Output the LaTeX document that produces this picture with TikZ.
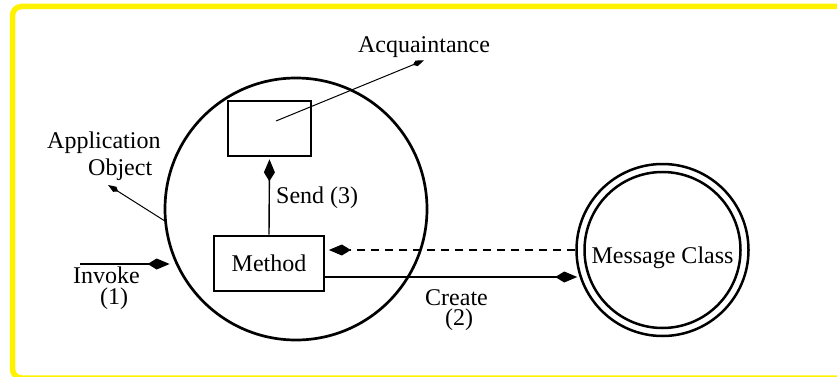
\documentclass[tikz,border=0pt]{standalone}
\usepackage{fontspec}
\setmainfont{Liberation Serif}
\usetikzlibrary{arrows.meta}
\begin{document}
\begin{tikzpicture}[x=1pt,y=-1pt,
  frame/.style={draw=yellow, line width=5.5pt, rounded corners=9pt},
  bigcirc/.style={circle, draw, line width=2.7pt, inner sep=0pt},
  boxnode/.style={rectangle, draw, line width=2.7pt, inner sep=0pt, font=\fontsize{24}{27}\selectfont},
  txt/.style={font=\fontsize{24}{27}\selectfont, inner sep=0pt},
  conn/.style={line width=1.4pt},
  thinconn/.style={line width=1pt},
  bighead/.style={-{Kite[length=22pt,width=11pt,inset=9pt]}},
  smallhead/.style={-{Kite[length=12pt,width=6pt,inset=4pt]}},
  dashconn/.style={line width=1.4pt, dash pattern=on 8pt off 6pt}
]
\useasboundingbox (0,0) rectangle (837,377);
\clip (0,0) rectangle (837,377);
\draw[frame] (12.5,6.5) rectangle (855,378);

% nodes
\node[bigcirc, minimum size=262pt] (obj) at (296,209) {};
\node[boxnode, minimum width=83pt, minimum height=55pt] (acq) at (269.5,128.5) {};
\node[boxnode, minimum width=110pt, minimum height=55pt] (method) at (269,263.5) {Method};
\node[circle, draw, line width=2.5pt, inner sep=0pt, minimum size=172pt,
      font=\fontsize{24}{27}\selectfont, text height=26pt, text depth=0pt] (msg) at (662.5,250) {Message Class};
\draw[line width=2.5pt] (msg.center) circle (78);

% labels
\node[txt, anchor=base, inner sep=2pt] (acqtext) at (424,53) {Acquaintance};
\node[txt, anchor=base west, align=left] (apptext) at (47,175) {Application\\\hspace*{41pt}Object};
\node[txt, anchor=base west] (sendtext) at (276,203) {Send (3)};
\node[txt, anchor=base west, align=left, font=\fontsize{24}{21}\selectfont] (invtext) at (73,304) {Invoke\\\hspace*{27pt}(1)};
\node[txt, anchor=base west, align=left, font=\fontsize{24}{20}\selectfont] (cretext) at (425,325) {Create\\\hspace*{20pt}(2)};

% coordinates
\coordinate (acqstart) at ([shift={(6.5pt,7.5pt)}]acq.center);
\coordinate (apptip) at (108,185);
\coordinate (inv) at (80,264);
\path (inv -| obj.west) coordinate (invend0);
\coordinate (invend) at ([xshift=6pt]invend0);
\coordinate (cr) at ([yshift=-13.5pt]method.east);
\path (cr -| msg.west) coordinate (crend0);
\coordinate (crend) at ([xshift=2pt]crend0);
\path (msg.west -| method.east) coordinate (dashend);

% connectors
\draw[thinconn, smallhead] (acqstart) -- (acqtext.south);
\draw[thinconn, smallhead] (obj.185) -- (apptip);
\draw[conn, bighead, shorten >=2pt] (method.north) -- (acq.south);
\draw[line width=1.8pt, bighead] (inv) -- (invend);
\draw[dashconn, bighead, shorten >=3.5pt] (msg.west) -- (dashend);
\draw[conn, bighead] (cr) -- (crend);
\end{tikzpicture}
\end{document}
